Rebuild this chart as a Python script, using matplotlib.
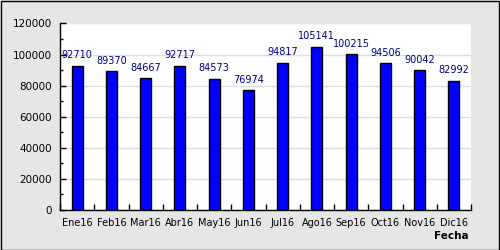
import numpy as np
import matplotlib.pyplot as plt
from matplotlib.patches import Rectangle

# Datos del gráfico
meses = ["Ene16", "Feb16", "Mar16", "Abr16", "May16", "Jun16",
         "Jul16", "Ago16", "Sep16", "Oct16", "Nov16", "Dic16"]
valores = [92710, 89370, 84667, 92717, 84573, 76974,
           94817, 105141, 100215, 94506, 90042, 82992]

fig = plt.figure(figsize=(5, 2.5), dpi=100, facecolor="#e6e6e6")
ax = fig.add_axes([0.12, 0.16, 0.822, 0.746])
ax.set_facecolor("white")

x = np.arange(len(meses))
ax.bar(x, valores, width=0.32, color="#0000ff", edgecolor="black", linewidth=1, zorder=3)

# Etiquetas de valor encima de cada barra
for xi, v in zip(x, valores):
    ax.annotate(str(v), (xi, v), xytext=(0, 4), textcoords="offset points",
                ha="center", va="bottom", fontsize=7, color="#000080", zorder=4)

ax.set_xlim(-0.5, len(meses) - 0.5)
ax.set_ylim(0, 120000)

# Ticks en los límites de cada categoría, etiquetas centradas
ax.set_xticks(np.arange(len(meses) + 1) - 0.5)
ax.set_xticklabels([])
ax.set_xticks(x, minor=True)
ax.set_xticklabels(meses, minor=True, fontsize=7)
ax.tick_params(axis="x", which="major", direction="in", length=4.5, width=1)
ax.tick_params(axis="x", which="minor", length=0, pad=6)

ax.set_yticks(np.arange(0, 120001, 20000))
ax.set_yticks(np.arange(10000, 120000, 20000), minor=True)
ax.tick_params(axis="y", which="major", direction="in", length=4.5, width=1, labelsize=7.5, pad=6)
ax.tick_params(axis="y", which="minor", direction="in", length=2.5, width=1)

ax.grid(axis="y", which="major", color="#dddddd", linewidth=1, zorder=0)
ax.set_axisbelow(True)

for s in ["top", "right"]:
    ax.spines[s].set_visible(False)
for s in ["left", "bottom"]:
    ax.spines[s].set_linewidth(1)
    ax.spines[s].set_zorder(5)

fig.text(0.938, 0.055, "Fecha", ha="right", va="center", fontsize=7.5, fontweight="bold")

# Borde negro del gráfico
fig.patches.append(Rectangle((0.001, 0.002), 0.997, 0.995, transform=fig.transFigure,
                             fill=False, edgecolor="black", linewidth=1))

plt.savefig("out.png", dpi=100, facecolor=fig.get_facecolor())
